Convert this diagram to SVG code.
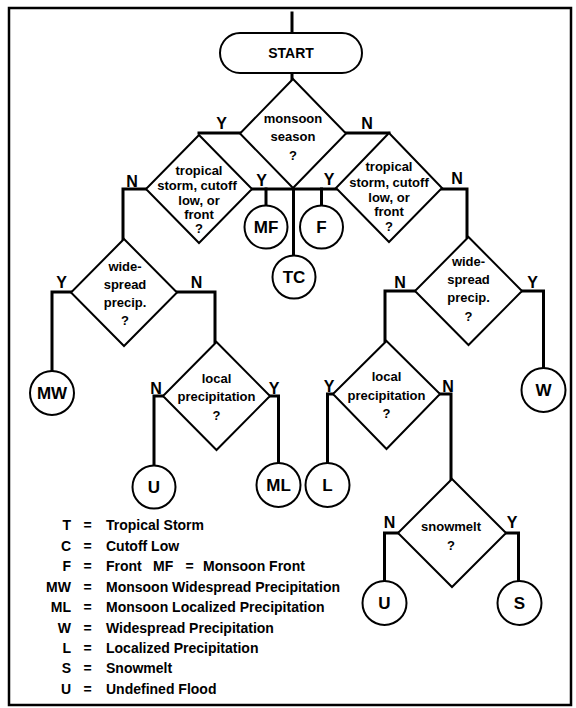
<svg xmlns="http://www.w3.org/2000/svg" width="576" height="708" viewBox="0 0 576 708">
<style>
  .bg { fill: #ffffff; }
  .frame { fill: none; stroke: #000; stroke-width: 2.5; }
  .shape { fill: #ffffff; stroke: #000; stroke-width: 2; }
  .conn { fill: none; stroke: #000; stroke-width: 3; stroke-linecap: square; stroke-linejoin: miter; }
  .q { font-family: "Liberation Sans", Arial, sans-serif; font-weight: bold; font-size: 13px; text-anchor: middle; fill: #000; }
  .c { font-family: "Liberation Sans", Arial, sans-serif; font-weight: bold; font-size: 17px; text-anchor: middle; fill: #000; }
  .yn { font-family: "Liberation Sans", Arial, sans-serif; font-weight: bold; font-size: 16px; text-anchor: middle; fill: #000; }
  .lg { font-family: "Liberation Sans", Arial, sans-serif; font-weight: bold; font-size: 14px; fill: #000; }
  .lk { text-anchor: end; }
  .eq { text-anchor: middle; }
</style>
<rect class="bg" x="0" y="0" width="576" height="708"/>
<rect class="frame" x="9" y="8" width="562" height="697"/>

<g id="connectors">
  <path class="conn" d="M292,13 V33"/>
  <path class="conn" d="M292,73 V79"/>
  <path class="conn" d="M240,133 H199"/>
  <path class="conn" d="M346,133 H389"/>
  <path class="conn" d="M146,189 H123 V239"/>
  <path class="conn" d="M252,189 H336"/>
  <path class="conn" d="M266,189 V206"/>
  <path class="conn" d="M321.5,189 V206"/>
  <path class="conn" d="M293.5,189 V256"/>
  <path class="conn" d="M442,189 H467 V237"/>
  <path class="conn" d="M71,292 H52 V371"/>
  <path class="conn" d="M177,292 H215 V342"/>
  <path class="conn" d="M415,291 H385 V341"/>
  <path class="conn" d="M522,291 H543.5 V368"/>
  <path class="conn" d="M163,396 H154 V465"/>
  <path class="conn" d="M270,396 H278.5 V463"/>
  <path class="conn" d="M333,394 H327.5 V463"/>
  <path class="conn" d="M440,394 H451 V479"/>
  <path class="conn" d="M398,533 H384.5 V581"/>
  <path class="conn" d="M506,533 H518.5 V581"/>
</g>

<g id="start">
  <rect class="shape" x="220" y="33" width="142" height="40" rx="20" ry="20"/>
  <text class="q" x="291" y="58" style="font-size:14px">START</text>
</g>

<g id="monsoon">
  <polygon class="shape" points="293,79 346,133.5 293,188 240,133.5"/>
  <text class="q" x="293" y="122.5">monsoon</text>
  <text class="q" x="293" y="141">season</text>
  <text class="q" x="293" y="159.5">?</text>
</g>

<g id="tropical-left">
  <polygon class="shape" points="199,135 252,189 199,243 146,189"/>
  <text class="q" x="199" y="174.5">tropical</text>
  <text class="q" x="197" y="190">storm, cutoff</text>
  <text class="q" x="199" y="204.5">low, or</text>
  <text class="q" x="199" y="219">front</text>
  <text class="q" x="199" y="233">?</text>
</g>

<g id="tropical-right">
  <polygon class="shape" points="389,133 442,188 389,242 336,188"/>
  <text class="q" x="389" y="171">tropical</text>
  <text class="q" x="389" y="187">storm, cutoff</text>
  <text class="q" x="389" y="202">low, or</text>
  <text class="q" x="389" y="215.5">front</text>
  <text class="q" x="389" y="231">?</text>
</g>

<g id="widespread-left">
  <polygon class="shape" points="124,239 177,292.5 124,346 71,292.5"/>
  <text class="q" x="125" y="271">wide-</text>
  <text class="q" x="125" y="288.5">spread</text>
  <text class="q" x="125" y="307">precip.</text>
  <text class="q" x="125" y="324.5">?</text>
</g>

<g id="widespread-right">
  <polygon class="shape" points="468.5,237 522,291 468.5,345 415,291"/>
  <text class="q" x="468.5" y="266">wide-</text>
  <text class="q" x="468.5" y="283.5">spread</text>
  <text class="q" x="468.5" y="302">precip.</text>
  <text class="q" x="468.5" y="321">?</text>
</g>

<g id="local-left">
  <polygon class="shape" points="216.5,342 270,396 216.5,450 163,396"/>
  <text class="q" x="216.5" y="383">local</text>
  <text class="q" x="216.5" y="401">precipitation</text>
  <text class="q" x="216.5" y="419.5">?</text>
</g>

<g id="local-right">
  <polygon class="shape" points="386.5,341 440,394 386.5,449 333,394"/>
  <text class="q" x="386.5" y="381">local</text>
  <text class="q" x="386.5" y="399.5">precipitation</text>
  <text class="q" x="386.5" y="418">?</text>
</g>

<g id="snowmelt">
  <polygon class="shape" points="452,479 506,533 452,587 398,533"/>
  <text class="q" x="451" y="531">snowmelt</text>
  <text class="q" x="451" y="550">?</text>
</g>

<g id="MF"><circle class="shape" cx="266" cy="227" r="21.5"/><text class="c" x="266" y="233">MF</text></g>
<g id="F"><circle class="shape" cx="321.5" cy="227" r="21.5"/><text class="c" x="321.5" y="233">F</text></g>
<g id="TC"><circle class="shape" cx="294" cy="277" r="21.5"/><text class="c" x="294" y="283">TC</text></g>
<g id="MW"><circle class="shape" cx="52" cy="393" r="22"/><text class="c" x="52" y="399">MW</text></g>
<g id="U-left"><circle class="shape" cx="154" cy="487" r="21.5"/><text class="c" x="154" y="493">U</text></g>
<g id="ML"><circle class="shape" cx="278.5" cy="485" r="22"/><text class="c" x="278.5" y="491">ML</text></g>
<g id="L"><circle class="shape" cx="327.5" cy="485" r="22"/><text class="c" x="327.5" y="491">L</text></g>
<g id="W"><circle class="shape" cx="543.5" cy="390" r="22"/><text class="c" x="543.5" y="396">W</text></g>
<g id="U-right"><circle class="shape" cx="384.5" cy="603" r="22"/><text class="c" x="384.5" y="609">U</text></g>
<g id="S"><circle class="shape" cx="519.5" cy="603" r="22"/><text class="c" x="519.5" y="609">S</text></g>

<g id="yn-labels">
  <text class="yn" x="221.5" y="129">Y</text>
  <text class="yn" x="367" y="129">N</text>
  <text class="yn" x="132" y="187">N</text>
  <text class="yn" x="261.5" y="186">Y</text>
  <text class="yn" x="329" y="185">Y</text>
  <text class="yn" x="457" y="184">N</text>
  <text class="yn" x="61.5" y="288">Y</text>
  <text class="yn" x="196.5" y="288">N</text>
  <text class="yn" x="400" y="288">N</text>
  <text class="yn" x="532.5" y="288">Y</text>
  <text class="yn" x="156" y="394">N</text>
  <text class="yn" x="274" y="394">Y</text>
  <text class="yn" x="329" y="392">Y</text>
  <text class="yn" x="448" y="392">N</text>
  <text class="yn" x="389.5" y="528">N</text>
  <text class="yn" x="512" y="528">Y</text>
</g>

<g id="legend">
  <text class="lg lk" x="71" y="530">T</text><text class="lg eq" x="87.5" y="530">=</text><text class="lg" x="106" y="530">Tropical Storm</text>
  <text class="lg lk" x="71" y="551">C</text><text class="lg eq" x="87.5" y="551">=</text><text class="lg" x="106" y="551">Cutoff Low</text>
  <text class="lg lk" x="71" y="571">F</text><text class="lg eq" x="87.5" y="571">=</text><text class="lg" x="106" y="571">Front</text><text class="lg" x="153" y="571">MF</text><text class="lg eq" x="189.5" y="571">=</text><text class="lg" x="203" y="571">Monsoon Front</text>
  <text class="lg lk" x="71" y="592">MW</text><text class="lg eq" x="87.5" y="592">=</text><text class="lg" x="106" y="592">Monsoon Widespread Precipitation</text>
  <text class="lg lk" x="71" y="612">ML</text><text class="lg eq" x="87.5" y="612">=</text><text class="lg" x="106" y="612">Monsoon Localized Precipitation</text>
  <text class="lg lk" x="71" y="633">W</text><text class="lg eq" x="87.5" y="633">=</text><text class="lg" x="106" y="633">Widespread Precipitation</text>
  <text class="lg lk" x="71" y="653">L</text><text class="lg eq" x="87.5" y="653">=</text><text class="lg" x="106" y="653">Localized Precipitation</text>
  <text class="lg lk" x="71" y="673">S</text><text class="lg eq" x="87.5" y="673">=</text><text class="lg" x="106" y="673">Snowmelt</text>
  <text class="lg lk" x="71" y="694">U</text><text class="lg eq" x="87.5" y="694">=</text><text class="lg" x="106" y="694">Undefined Flood</text>
</g>
</svg>
